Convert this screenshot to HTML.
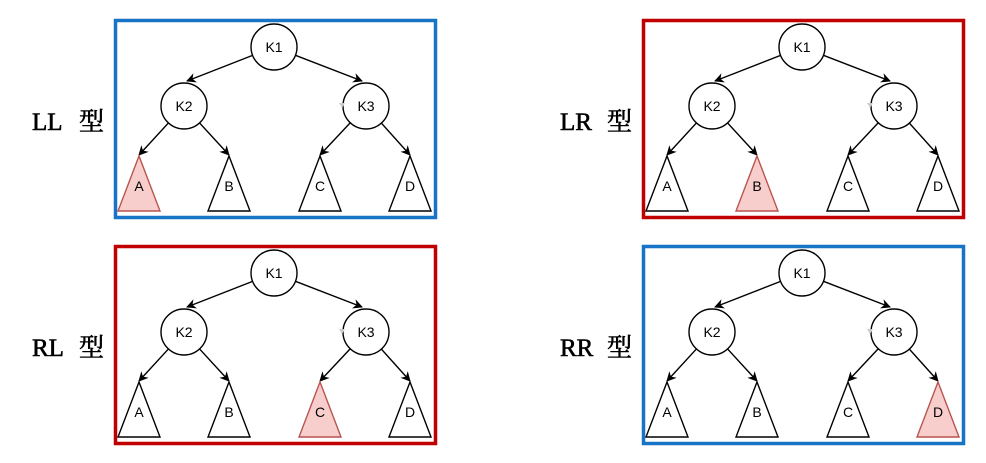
<!DOCTYPE html>
<html><head><meta charset="utf-8"><style>
html,body{margin:0;padding:0;background:#fff;width:986px;height:463px;overflow:hidden}
svg{display:block}
.lbl{font-family:"Liberation Serif","Noto Serif CJK SC",serif;font-size:25px;font-weight:normal;stroke:#000;stroke-width:0.6}
.nt{font-family:"Liberation Sans",sans-serif;font-size:14px}
</style></head><body>
<svg id="s" width="986" height="463" viewBox="0 0 986 463">
<defs><marker id="ar" viewBox="0 0 10 10" refX="9" refY="5" markerWidth="7" markerHeight="7" orient="auto"><path d="M0,0 L10,5 L0,10 L3,5 z" fill="#000"/></marker></defs>
</svg>
<script>
const panels=[
 {name:'LL',dx:0,dy:0,color:'#1874c6',hl:0},
 {name:'LR',dx:528,dy:0,color:'#c00000',hl:1},
 {name:'RL',dx:0,dy:226,color:'#c00000',hl:2},
 {name:'RR',dx:528,dy:226,color:'#1874c6',hl:3}
];
const leaves=['A','B','C','D'];
const leafX=[139,229,320,410];
const NS='http://www.w3.org/2000/svg';
const svg=document.getElementById('s');
function mk(t,a,p){const e=document.createElementNS(NS,t);for(const k in a)e.setAttribute(k,a[k]);(p||svg).appendChild(e);return e;}
panels.forEach(p=>{
 const g=mk('g',{transform:`translate(${p.dx},${p.dy})`});
 
 
 const lb=mk('text',{x:32,y:130,class:'lbl'},g);lb.textContent=p.name;
 
 
 const lb2=mk('text',{x:79,y:130,class:'lbl'},g);lb2.textContent='型';
 const r=mk('rect',{x:115.5,y:20.5,width:320,height:197,fill:'none',stroke:p.color,'stroke-width':3.5},g);
 
 
 const nodes=[['K1',274,47],['K2',184,106],['K3',366,106]];
 const R=23;
 function edge(x1,y1,x2,y2){
  const dx=x2-x1,dy=y2-y1,l=Math.hypot(dx,dy);
  mk('line',{x1:x1+dx/l*R,y1:y1+dy/l*R,x2:x2,y2:y2,stroke:'#000','stroke-width':1.4,'marker-end':'url(#ar)'},g);
 }
 edge(274,47,187,81);edge(274,47,362,81);
 leafX.forEach((x,i)=>{const par=i<2?nodes[1]:nodes[2];edge(par[1],par[2],x,155);});
 nodes.forEach(n=>{
  const c=mk('circle',{cx:n[1],cy:n[2],r:R,fill:'#fff',stroke:'#000','stroke-width':1.4},g);
  
  
  const t=mk('text',{x:n[1],y:n[2]+5,'text-anchor':'middle',class:'nt'},g);t.textContent=n[0];
 });
 mk('path',{d:'M339,103 l6,0 l-3,5 z',fill:'#ccc'},g);
 leafX.forEach((x,i)=>{
  const h=i===p.hl;
  const tr=mk('polygon',{points:`${x},156 ${x-21},211 ${x+21},211`,fill:h?'#f8cecc':'#fff',stroke:h?'#b85450':'#000','stroke-width':1.4},g);
  
  
  const t=mk('text',{x:x,y:191,'text-anchor':'middle',class:'nt'},g);t.textContent=leaves[i];
 });
});
</script>
</body></html>
